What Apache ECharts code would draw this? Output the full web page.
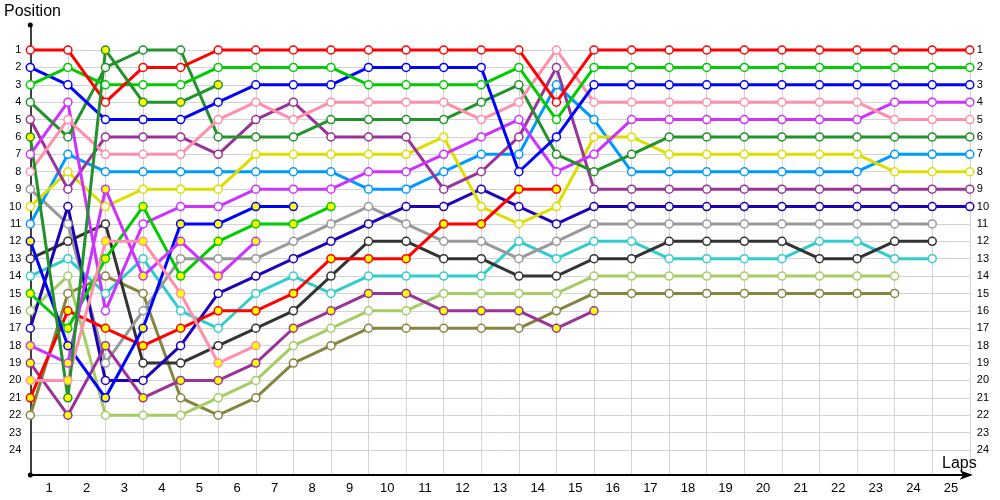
<!DOCTYPE html>
<html><head><meta charset="utf-8">
<script src="https://cdn.jsdelivr.net/npm/echarts@6/dist/echarts.min.js"></script>
<style>html,body{margin:0;padding:0;background:#fff}#c{width:1000px;height:500px}</style>
</head><body><div id="c"></div>
<script>
// Lap tick labels (lap 0 = starting grid)
const lapLabels = ['1','2','3','4','5','6','7','8','9','10','11','12','13','14','15','16','17','18','19','20','21','22','23','24','25'];

// Position per lap (index 0 = start, index n = after lap n)
const red1     = [1,1,4,2,2,1,1,1,1,1,1,1,1,1,4,1,1,1,1,1,1,1,1,1,1,1];
const green1   = [3,2,3,3,3,2,2,2,2,3,3,3,3,2,5,2,2,2,2,2,2,2,2,2,2,2];
const blue1    = [2,3,5,5,5,4,3,3,3,2,2,2,2,8,6,3,3,3,3,3,3,3,3,3,3,3];
const pink1    = [8,5,7,7,7,5,4,5,4,4,4,4,5,4,1,4,4,4,4,4,4,4,4,5,5,5];
const violet1  = [7,4,16,11,10,10,9,9,9,8,8,7,6,5,8,7,5,5,5,5,5,5,5,4,4,4];
const dkgreen1 = [4,6,2,1,1,6,6,6,5,5,5,5,4,3,7,8,7,6,6,6,6,6,6,6,6,6];
const ltblue   = [11,7,8,8,8,8,8,8,8,9,9,8,7,7,3,5,8,8,8,8,8,8,8,7,7,7];
const yellow   = [10,8,10,9,9,9,7,7,7,7,7,6,10,11,10,6,6,7,7,7,7,7,7,8,8,8];
const purple1  = [5,9,6,6,6,7,5,4,6,6,6,9,8,6,2,9,9,9,9,9,9,9,9,9,9,9];
const dkblue   = [17,10,20,20,18,15,14,13,12,11,10,10,9,10,11,10,10,10,10,10,10,10,10,10,10,10];
const gray     = [9,11,19,16,13,13,13,12,11,10,11,12,12,13,12,11,11,11,11,11,11,11,11,11,11];
const black    = [13,12,11,19,19,18,17,16,14,12,12,13,13,14,14,13,13,12,12,12,12,13,13,12,12];
const cyan     = [14,13,15,13,16,17,15,14,15,14,14,14,14,12,13,12,12,13,13,13,13,12,12,13,13];
const ltgreen  = [16,14,22,22,22,21,20,18,17,16,16,15,15,15,15,14,14,14,14,14,14,14,14,14];
const olive    = [22,15,14,15,21,22,21,19,18,17,17,17,17,17,16,15,15,15,15,15,15,15,15,15];
const purple2  = [19,22,18,21,20,20,19,17,16,15,15,16,16,16,17,16];
const red2     = [21,16,17,18,17,16,16,15,13,13,13,11,11,9,9];
const green2   = [15,17,13,10,14,12,11,11,10];
const blue2    = [12,18,21,17,11,11,10,10];
const violet2  = [18,19,9,14,12,14,12];
const pink2    = [20,20,12,12,15,19,18];
const dkgreen2 = [6,21,1,4,4,3];

const drivers = [
  {data: olive,    color: '#858540', second: false},
  {data: ltgreen,  color: '#a6cc66', second: false},
  {data: cyan,     color: '#33cccc', second: false},
  {data: black,    color: '#333333', second: false},
  {data: gray,     color: '#999999', second: false},
  {data: dkblue,   color: '#1f00b8', second: false},
  {data: ltblue,   color: '#0099ff', second: false},
  {data: yellow,   color: '#dddd00', second: false},
  {data: purple1,  color: '#993399', second: false},
  {data: violet1,  color: '#cc33ff', second: false},
  {data: dkgreen1, color: '#22922a', second: false},
  {data: pink1,    color: '#ff8fab', second: false},
  {data: blue1,    color: '#0000ff', second: false},
  {data: green1,   color: '#00cc00', second: false},
  {data: red1,     color: '#ff0000', second: false},
  {data: purple2,  color: '#993399', second: true},
  {data: red2,     color: '#ff0000', second: true},
  {data: green2,   color: '#00cc00', second: true},
  {data: blue2,    color: '#0000ff', second: true},
  {data: violet2,  color: '#cc33ff', second: true},
  {data: pink2,    color: '#ff8fab', second: true},
  {data: dkgreen2, color: '#22922a', second: true}
];

const FONT = 'Liberation Sans, Arial, sans-serif';
const series = [];
drivers.forEach(d => {
  const pts = d.data.map((p, i) => [i, p]);
  series.push({
    type: 'line', xAxisIndex: 0, yAxisIndex: 0, data: pts, z: 2,
    showSymbol: false, silent: true,
    lineStyle: {color: d.color, width: 3}, itemStyle: {color: d.color}
  });
});
drivers.forEach(d => {
  const pts = d.data.map((p, i) => [i, p]);
  series.push({
    type: 'scatter', xAxisIndex: 0, yAxisIndex: 0, data: pts, z: 3,
    symbol: 'circle', symbolSize: 8, silent: true,
    itemStyle: {color: d.second ? '#ffff00' : '#ffffff', borderColor: d.color, borderWidth: 1.5, opacity: 1}
  });
});

const chart = echarts.init(document.getElementById('c'), null, {renderer: 'canvas'});
chart.setOption({
  animation: false,
  backgroundColor: '#ffffff',
  title: [
    {text: 'Position', left: 4, top: 4, padding: 0, textStyle: {fontSize: 16, fontWeight: 'normal', color: '#000', fontFamily: FONT}},
    {text: 'Laps', left: 942, top: 456, padding: 0, textStyle: {fontSize: 16, fontWeight: 'normal', color: '#000', fontFamily: FONT}}
  ],
  grid: [
    {left: 30.3, right: 30.2, top: 32.6, bottom: 32.6},
    {left: 30.3, right: 30.2, top: 45, bottom: 25},
    {left: 30.3, right: 30.2, top: 25, bottom: 25}
  ],
  xAxis: [
    {gridIndex: 0, type: 'value', min: 0, max: 25, show: false},
    {gridIndex: 1, type: 'value', min: 0, max: 25, interval: 1, position: 'bottom',
     axisLine: {show: true, lineStyle: {color: '#000', width: 2}, symbol: ['none', 'arrow'], symbolSize: [7, 13], symbolOffset: [0, 3]},
     axisTick: {show: false}, axisLabel: {show: false},
     splitLine: {show: true, showMinLine: false, lineStyle: {color: '#d3d3d3', width: 1}}},
    {gridIndex: 1, type: 'category', data: lapLabels, boundaryGap: true, position: 'bottom', offset: 0,
     axisLine: {show: false}, axisTick: {show: false}, splitLine: {show: false},
     axisLabel: {show: true, interval: 0, fontSize: 13, color: '#000', margin: 7, fontFamily: FONT}},
    {gridIndex: 2, type: 'value', min: 0, max: 1, show: false}
  ],
  yAxis: [
    {gridIndex: 0, type: 'value', inverse: true, min: 0, max: 25, interval: 1, position: 'left',
     axisLine: {show: false}, axisTick: {show: false},
     axisLabel: {show: true, showMinLabel: false, showMaxLabel: false, fontSize: 11, color: '#000', margin: 9, fontFamily: FONT,
                 formatter: v => (v >= 1 && v <= 24) ? String(v) : ''},
     splitLine: {show: true, showMinLine: false, showMaxLine: false, lineStyle: {color: '#d3d3d3', width: 1}}},
    {gridIndex: 0, type: 'value', inverse: true, min: 0, max: 25, interval: 1, position: 'right',
     axisLine: {show: false}, axisTick: {show: false}, splitLine: {show: false},
     axisLabel: {show: true, showMinLabel: false, showMaxLabel: false, fontSize: 11, color: '#000', margin: 7, fontFamily: FONT,
                 formatter: v => (v >= 1 && v <= 24) ? String(v) : ''}},
    {gridIndex: 1, type: 'value', min: 0, max: 1, show: false},
    {gridIndex: 2, type: 'value', min: 0, max: 1, position: 'left',
     axisLine: {show: true, lineStyle: {color: '#000', width: 1.5}, symbol: ['circle', 'circle'], symbolSize: [5, 5]},
     axisTick: {show: false}, axisLabel: {show: false}, splitLine: {show: false}}
  ],
  series: series
});
</script>
</body></html>
